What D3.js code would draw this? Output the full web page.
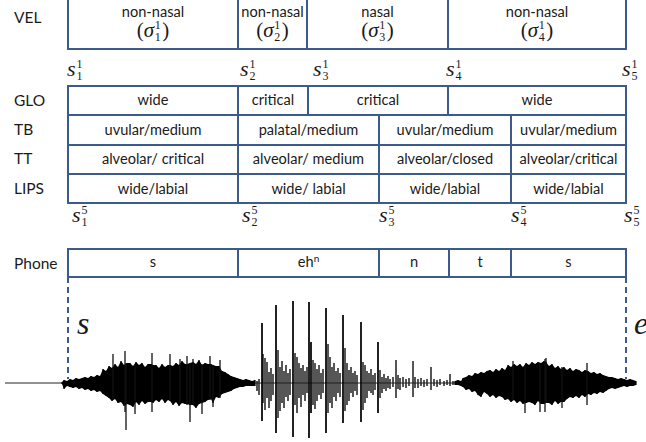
<!DOCTYPE html>
<html>
<head>
<meta charset="utf-8">
<script src="https://cdn.jsdelivr.net/npm/d3@7"></script>
<style>
  body { margin: 0; background: #fff; }
</style>
</head>
<body>
<svg id="chart" width="646" height="442"></svg>
<script>
// --- Data: segment boundaries in ms from utterance start ---
const velBounds = [0, 170, 239, 380, 558];
const velLabels = ["non-nasal", "non-nasal", "nasal", "non-nasal"];
const velSubs = ["1", "2", "3", "4"];
const gloBounds = [0, 170, 240, 380, 558];
const gloLabels = ["wide", "critical", "critical", "wide"];
const tractBounds = [0, 170, 311, 443, 558];
const tbLabels = ["uvular/medium", "palatal/medium", "uvular/medium", "uvular/medium"];
const ttLabels = ["alveolar/ critical", "alveolar/ medium", "alveolar/closed", "alveolar/critical"];
const lipsLabels = ["wide/labial", "wide/ labial", "wide/labial", "wide/labial"];
const phoneBounds = [0, 170, 311, 381, 443, 558];
const phoneLabels = ["s", "eh^n", "n", "t", "s"];
const rowNames = ["GLO", "TB", "TT", "LIPS"];

// waveform: [time ms, amplitude up, amplitude down]
const fric1 = [
  [-6,1,1],[-4,3,6],[-1,2,3],[2,4,4],[5,3,5],[8,5,4],[11,4,6],[14,5,5],[17,6,7],[20,5,6],
  [23,7,8],[26,6,7],[29,8,9],[32,7,8],[35,14,11],[38,12,13],[41,17,15],[44,15,18],[47,19,16],
  [50,16,20],[53,22,19],[56,18,23],[59,20,21],[62,20,22],[65,17,24],[68,21,19],[71,18,22],
  [74,20,18],[77,16,21],[80,19,19],[83,19,19],[85,18,20],[88,18,17],[91,15,19],[94,19,16],
  [97,16,20],[100,18,17],[102,18,18],[105,17,22],[108,20,19],[111,18,23],[114,22,20],[117,19,21],
  [119,19,21],[122,20,22],[125,21,22],[128,19,25],[131,23,21],[134,18,20],[137,20,19],[140,19,17],
  [143,19,16],[145,18,20],[148,17,14],[151,17,15],[154,12,11],[157,11,10],[160,9,9],[163,7,8],
  [166,6,6],[169,5,5],[172,4,4],[175,3,4],[178,4,3],[181,3,3],[184,2,3],[187,3,3]
];
const peaks1 = [
  [45,29,16],[57,32,29],[58,20,47],[67,18,31],[84,30,29],[102,29,18],[112,24,20],[119,27,22],
  [122,20,39],[125,24,21],[134,19,31],[142,27,17],[145,18,24],[152,23,15]
];
const voiced = [
  [189,2,8],[191,4,12],[194,60,38],[195,29,20],[197,25,27],[199,21,15],[201,11,25],[203,15,18],
  [205,9,12],[208,78,50],[210,33,35],[212,16,28],[214,22,20],[216,12,25],[218,18,14],[220,10,18],
  [222,14,12],[225,82,54],[227,30,22],[229,26,30],[231,20,15],[233,15,24],[235,18,12],[237,12,18],
  [239,16,10],[241,81,55],[243,41,30],[245,23,22],[247,20,26],[249,14,18],[251,18,12],[253,10,16],
  [255,14,10],[258,75,50],[260,39,30],[262,26,20],[264,16,25],[266,20,14],[268,12,18],[270,15,10],
  [272,10,14],[275,68,40],[277,35,28],[279,20,22],[281,13,18],[283,16,10],[285,10,14],[287,12,8],
  [289,8,12],[293,61,39],[295,21,27],[297,18,20],[299,12,15],[301,10,8],[303,14,10],[305,8,12],
  [307,10,7],[310,41,30],[312,13,15],[314,6,10],[316,9,6],[318,5,8],[320,7,5],[322,4,6],[325,6,4],
  [328,23,15],[330,8,6],[332,5,7],[335,6,4],[338,4,5],[341,5,3],[345,22,14],[347,6,5],[350,4,5],
  [353,5,3],[356,3,4],[359,4,3],[363,16,7],[366,4,3],[369,3,4],[372,4,2],[376,2,3],[379,3,2],
  [382,9,3],[385,2,2]
];
const fric2 = [
  [387,2,2],[390,3,2],[393,2,3],[395,5,4],[398,6,7],[401,8,6],[404,7,9],[407,10,8],[410,9,12],
  [413,11,14],[416,10,9],[419,12,11],[422,13,14],[425,11,12],[428,14,15],[431,12,13],[434,15,14],
  [437,13,17],[440,18,16],[443,16,19],[446,19,17],[449,17,20],[452,19,18],[455,16,21],[458,20,20],
  [461,18,19],[464,21,20],[467,19,22],[470,21,18],[473,20,21],[476,22,21],[478,21,20],[481,17,20],
  [484,19,22],[487,15,18],[490,17,21],[493,14,19],[496,16,19],[499,13,16],[502,15,14],[505,12,15],
  [508,14,13],[511,13,15],[514,11,12],[517,13,14],[520,12,11],[523,10,12],[526,11,10],[529,9,11],
  [532,10,9],[535,8,10],[538,7,8],[541,6,6],[544,6,5],[547,5,6],[550,4,5],[553,5,4],[556,4,3],
  [559,3,4],[562,4,3],[565,3,3],[568,2,2]
];
const peaks2 = [[445,22,17],[457,18,30],[472,20,29],[477,24,29],[478,25,20],[494,16,25],[519,20,22]];
const waveSpan = [-63, 568];

// --- Layout ---
const svg = d3.select("#chart");
const x = d3.scaleLinear().domain([0, 558]).range([68, 626]);
const y = d3.scaleLinear().domain([-60, 60]).range([443, 323]);
const BLUE = "#3b5b8c";
const INK = "#1a1a1a";
const SANS = "Lato, 'Open Sans', sans-serif";
const SERIF = "'Liberation Serif', 'Times New Roman', serif";

function drawRow(bounds, labels, y0, y1, textY) {
  const cells = labels.map((l, i) => ({ label: l, t0: bounds[i], t1: bounds[i + 1] }));
  const g = svg.append("g");
  g.selectAll("rect").data(cells).join("rect")
    .attr("x", d => x(d.t0)).attr("y", y0)
    .attr("width", d => x(d.t1) - x(d.t0)).attr("height", y1 - y0)
    .attr("fill", "none").attr("stroke", BLUE).attr("stroke-width", 2);
  const txt = g.selectAll("text").data(cells).join("text")
    .attr("x", d => (x(d.t0) + x(d.t1)) / 2).attr("y", textY)
    .attr("text-anchor", "middle").attr("font-family", SANS)
    .attr("font-size", 14.6).attr("fill", INK);
  txt.each(function (d) {
    const [base, sup] = d.label.split("^");
    const t = d3.select(this);
    t.append("tspan").text(base);
    if (sup) t.append("tspan").attr("font-size", 10).attr("dy", -5).text(sup);
  });
  return cells;
}

function rowLabel(text, yBase) {
  svg.append("text").attr("x", 14).attr("y", yBase)
    .attr("font-family", SANS).attr("font-size", 15.5).attr("fill", INK).text(text);
}

// s_sub^sup math label, left at x0
function sLabel(x0, yBase, sup, sub) {
  const t = svg.append("text").attr("x", x0).attr("y", yBase)
    .attr("font-family", SERIF).attr("font-style", "italic").attr("font-size", 22)
    .attr("fill", INK).text("s");
  const w = t.node().getComputedTextLength();
  svg.append("text").attr("x", x0 + w + 1).attr("y", yBase - 8)
    .attr("font-family", SERIF).attr("font-size", 12).attr("fill", INK).text(sup);
  svg.append("text").attr("x", x0 + w + 1).attr("y", yBase + 4)
    .attr("font-family", SERIF).attr("font-size", 12).attr("fill", INK).text(sub);
}

// (sigma_sub^1) centred at cx
function sigmaLabel(cx, yBase, sub) {
  const g = svg.append("g");
  const a = g.append("text").attr("y", yBase).attr("font-family", SERIF)
    .attr("font-size", 21).attr("fill", INK);
  a.append("tspan").text("(");
  a.append("tspan").attr("font-style", "italic").text("\u03c3");
  const wa = a.node().getComputedTextLength();
  const sup = g.append("text").attr("x", wa + 0.5).attr("y", yBase - 8)
    .attr("font-family", SERIF).attr("font-size", 12).attr("fill", INK).text("1");
  g.append("text").attr("x", wa + 0.5).attr("y", yBase + 4)
    .attr("font-family", SERIF).attr("font-size", 12).attr("fill", INK).text(sub);
  const ws = sup.node().getComputedTextLength();
  const c = g.append("text").attr("x", wa + ws + 2).attr("y", yBase).attr("font-family", SERIF)
    .attr("font-size", 21).attr("fill", INK).text(")");
  const total = wa + ws + 2 + c.node().getComputedTextLength();
  g.attr("transform", `translate(${cx - total / 2},0)`);
}

// --- VEL tier ---
rowLabel("VEL", 23);
const velCells = drawRow(velBounds, velLabels, -2, 49, 17);
velCells.forEach((d, i) => sigmaLabel((x(d.t0) + x(d.t1)) / 2, 37, velSubs[i]));
const s1Shift = [-1, 2, 6, -2, -4];
velBounds.forEach((b, i) => sLabel(x(b) + s1Shift[i], 76, "1", String(i + 1)));

// --- articulator tiers ---
const rowEdges = [86, 115, 145, 174, 203];
const rowText = [105, 134.5, 163.5, 193.5];
[gloBounds, tractBounds, tractBounds, tractBounds].forEach((b, i) => {
  const labels = [gloLabels, tbLabels, ttLabels, lipsLabels][i];
  drawRow(b, labels, rowEdges[i], rowEdges[i + 1], rowText[i]);
  rowLabel(rowNames[i], rowText[i] + 0.5);
});
const s5Shift = [4, 4, 0, 0, -2];
tractBounds.forEach((b, i) => sLabel(x(b) + s5Shift[i], 222, "5", String(i + 1)));

// --- Phone tier ---
rowLabel("Phone", 269);
drawRow(phoneBounds, phoneLabels, 249, 277, 267);

// dashed markers for utterance start/end
[0, 558].forEach(t => {
  svg.append("line").attr("x1", x(t)).attr("x2", x(t)).attr("y1", 277).attr("y2", y(4))
    .attr("stroke", BLUE).attr("stroke-width", 2).attr("stroke-dasharray", "6,4");
});
svg.append("text").attr("x", x(0) + 9).attr("y", 334).attr("font-family", SERIF)
  .attr("font-style", "italic").attr("font-size", 32).attr("fill", INK).text("s");
svg.append("text").attr("x", x(558) + 8).attr("y", 334).attr("font-family", SERIF)
  .attr("font-style", "italic").attr("font-size", 32).attr("fill", INK).text("e");

// --- Waveform ---
const wave = svg.append("g");
wave.append("line").attr("x1", x(waveSpan[0])).attr("x2", x(waveSpan[1]))
  .attr("y1", y(0)).attr("y2", y(0)).attr("stroke", "#222").attr("stroke-width", 1.2);
const area = d3.area().x(d => x(d[0])).y0(d => y(-d[2])).y1(d => y(d[1]));
function strokes(data, width, color) {
  wave.append("g").selectAll("line").data(data).join("line")
    .attr("x1", d => x(d[0])).attr("x2", d => x(d[0]))
    .attr("y1", d => y(d[1])).attr("y2", d => y(-d[2]))
    .attr("stroke", color).attr("stroke-width", width);
}
[fric1, fric2].forEach(data => {
  wave.append("path").datum(data).attr("d", area).attr("fill", "#000");
  strokes(data, 1.2, "#000");
});
strokes(peaks1, 1.3, "#111");
strokes(peaks2, 1.3, "#111");
strokes(voiced.filter(d => d[1] < 40), 1.5, "#1e1e1e");
strokes(voiced.filter(d => d[1] >= 40), 1.8, "#0a0a0a");
</script>
</body>
</html>
